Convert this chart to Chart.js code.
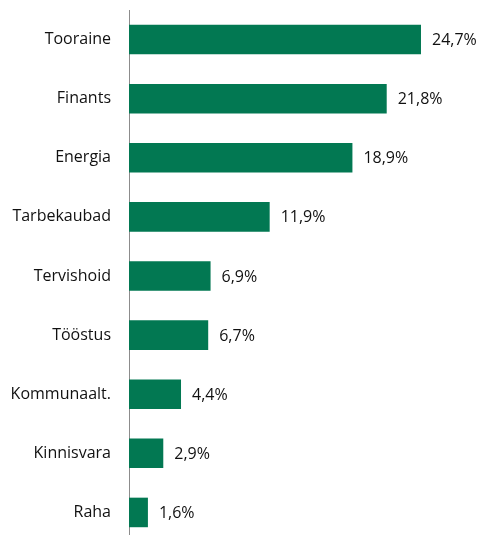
<!DOCTYPE html>
<html>
<head>
<meta charset="utf-8">
<script src="https://cdn.jsdelivr.net/npm/chart.js@4"></script>
<style>
  html, body { margin: 0; padding: 0; background: #fff; overflow: hidden; }
  #wrap { width: 479px; height: 542px; }
</style>
</head>
<body>
<div id="wrap"><canvas id="sectorChart"></canvas></div>
<script>
// chart data
var sectors = ["Tooraine", "Finants", "Energia", "Tarbekaubad", "Tervishoid", "Tööstus", "Kommunaalt.", "Kinnisvara", "Raha"];
var shares = [24.7, 21.8, 18.9, 11.9, 6.9, 6.7, 4.4, 2.9, 1.6];

// value labels at bar ends
var valueLabels = {
    id: 'valueLabels',
    afterDatasetsDraw: function (chart) {
        var ctx = chart.ctx;
        var meta = chart.getDatasetMeta(0);
        ctx.save();
        ctx.font = '16px "Open Sans", sans-serif';
        ctx.fillStyle = '#111';
        ctx.textAlign = 'left';
        ctx.textBaseline = 'middle';
        meta.data.forEach(function (bar, i) {
            var txt = shares[i].toFixed(1).replace('.', ',') + '%';
            ctx.fillText(txt, bar.x + 11, bar.y + 1);
        });
        ctx.restore();
    }
};

var ctx = document.getElementById('sectorChart').getContext('2d');
var sectorChart = new Chart(ctx, {
    type: 'bar',
    data: {
        labels: sectors,
        datasets: [{
            data: shares,
            backgroundColor: '#027852',
            barPercentage: 0.5,
            categoryPercentage: 1.0
        }]
    },
    options: {
        indexAxis: 'y',
        responsive: true,
        maintainAspectRatio: false,
        animation: false,
        layout: { padding: { top: 10, right: 19, bottom: 0, left: 0 } },
        plugins: {
            legend: { display: false },
            tooltip: { enabled: false }
        },
        scales: {
            x: {
                display: false,
                min: 0,
                max: 28
            },
            y: {
                grid: { display: false, drawTicks: false },
                border: { display: true, color: '#8c8c8c', width: 1 },
                ticks: {
                    color: '#111',
                    padding: 18,
                    font: { family: '"Open Sans", sans-serif', size: 16 }
                },
                afterFit: function (scale) {
                    scale.width = 129;
                    scale.paddingTop = 0;
                    scale.paddingBottom = 0;
                }
            }
        }
    },
    plugins: [valueLabels]
});
</script>
</body>
</html>
